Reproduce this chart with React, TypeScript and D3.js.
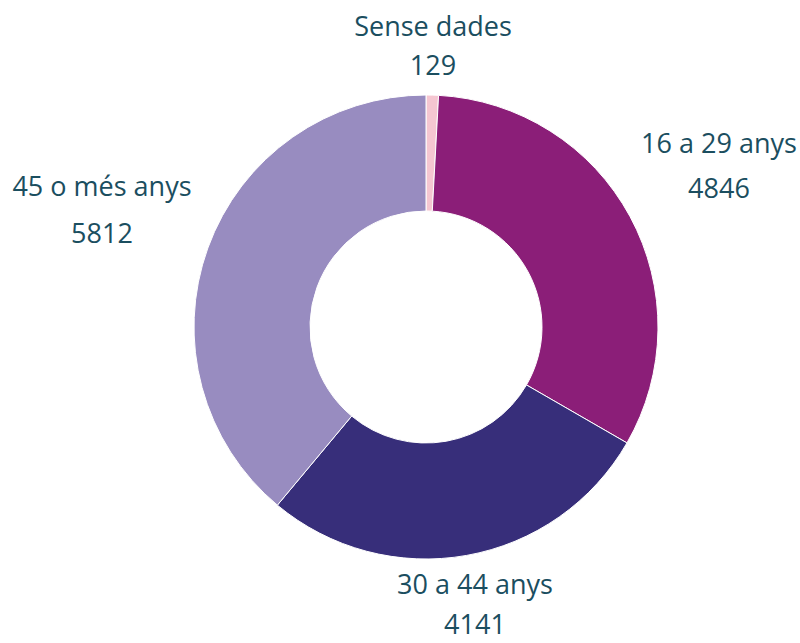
import React from "react";
import * as d3 from "d3";

const categories = ["Sense dades", "16 a 29 anys", "30 a 44 anys", "45 o més anys"];
const values = [129, 4846, 4141, 5812];
const colors = ["#f5c6d1", "#8b1e78", "#372e7a", "#988cc0"];
const labelPos: [number, number, number][] = [
  [433, 36, 75],
  [719, 153, 198],
  [475, 594, 634],
  [102, 196, 243],
];

export default function App() {
  const W = 800, H = 643;
  const cx = 426, cy = 327, rOuter = 232, rInner = 116;
  const pie = d3.pie<number>().sort(null).value((d) => d);
  const arcs = pie(values);
  const arc = d3.arc<d3.PieArcDatum<number>>().innerRadius(rInner).outerRadius(rOuter);
  return (
    <svg width={W} height={H} style={{ position: "absolute", left: 0, top: 0 }}>
      <rect width={W} height={H} fill="#fff" />
      <g transform={`translate(${cx},${cy})`}>
        {arcs.map((a, i) => (
          <path key={i} d={arc(a) || ""} fill={colors[i]} stroke="#fff" strokeWidth={1} />
        ))}
      </g>
      {categories.map((c, i) => (
        <g key={c} fontFamily="'Open Sans', sans-serif" fontSize={27} fill="#1b4e5f" textAnchor="middle">
          <text x={labelPos[i][0]} y={labelPos[i][1]}>{c}</text>
          <text x={labelPos[i][0]} y={labelPos[i][2]}>{values[i]}</text>
        </g>
      ))}
    </svg>
  );
}
